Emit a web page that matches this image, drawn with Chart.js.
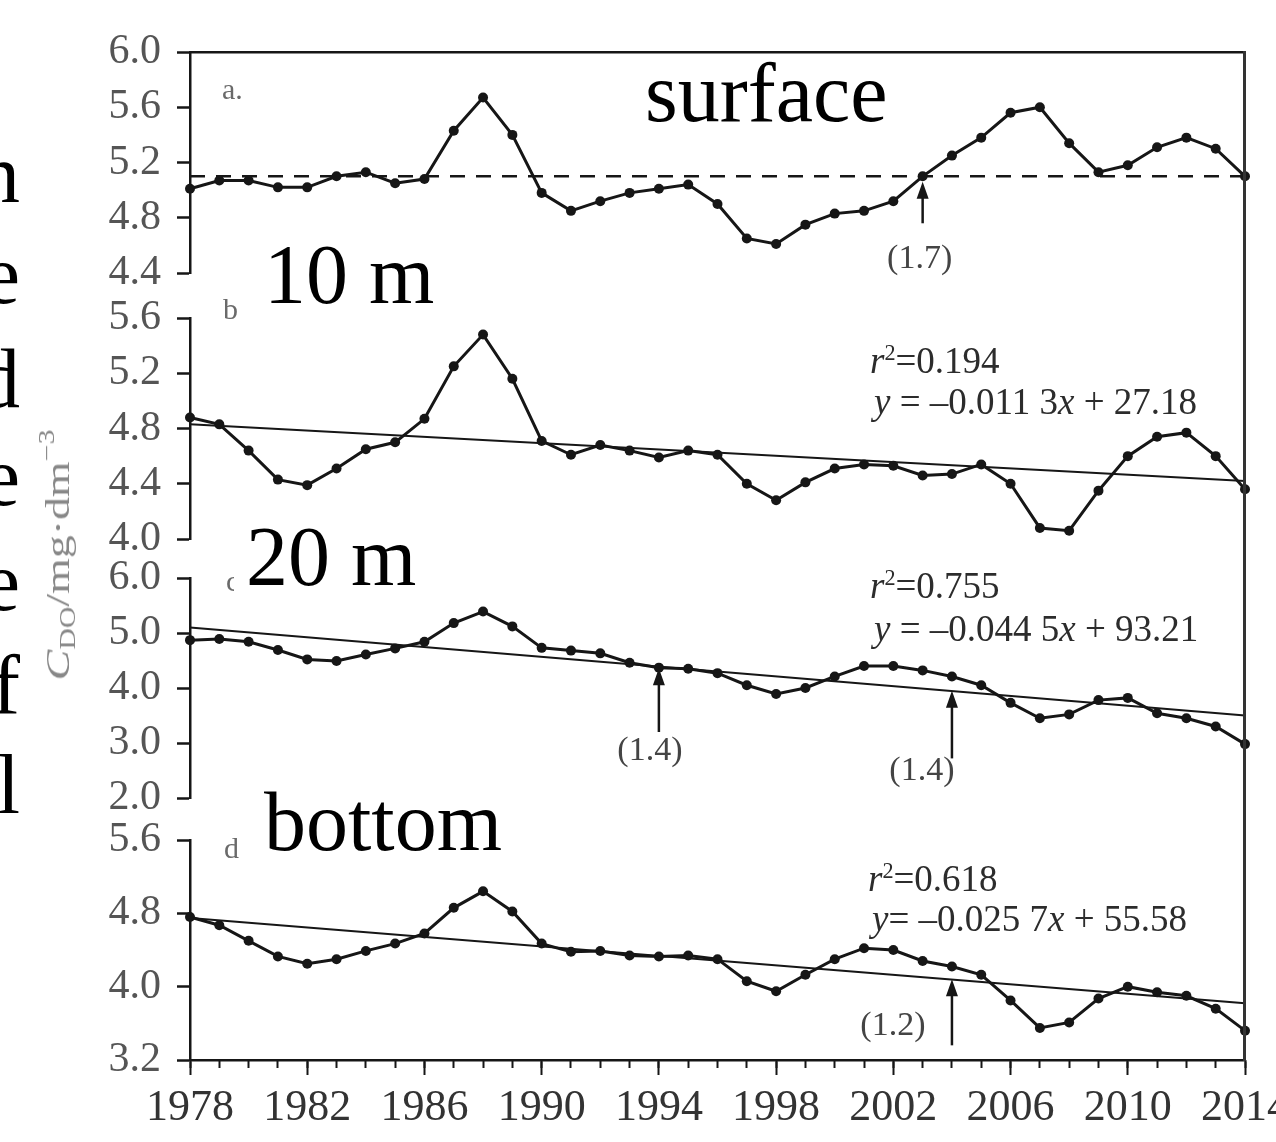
<!DOCTYPE html>
<html>
<head>
<meta charset="utf-8">
<script src="https://cdn.jsdelivr.net/npm/chart.js@4.4.1/dist/chart.umd.min.js"></script>
<style>
  html, body { margin: 0; padding: 0; background: #fff; }
  #wrap { position: relative; width: 1276px; height: 1142px; overflow: hidden;
          font-family: "Liberation Serif", "Times New Roman", serif; }
  canvas { position: absolute; left: 0; }
  .t { position: absolute; line-height: 1; white-space: nowrap; }
  .big { font-size: 84px; color: #000; background: #fff; }
  .side { font-size: 84px; color: #000; left: -200px; width: 220px; text-align: right; }
  .tag { font-size: 30px; color: #6a6a6a; }
  .eq { font-size: 37px; color: #2c2c2c; }
  .eq sup { font-size: 0.6em; vertical-align: 0.6em; line-height: 0; }
  .ytitle { font-size: 34px; color: #888; transform: translate(-50%, -50%) rotate(-90deg) scaleX(1.35); }
  .ytitle sub { font-size: 0.65em; vertical-align: -0.25em; line-height: 0; }
  .ytitle sup { font-size: 0.65em; vertical-align: 0.7em; line-height: 0; }
  #rightEdge { position: absolute; left: 1243px; top: 51px; width: 3px; height: 1010px; background: #333; }
</style>
</head>
<body>
<div id="wrap">
  <canvas id="cA" width="1276" height="319" style="top:0px"></canvas>
  <canvas id="cB" width="1276" height="313" style="top:272px"></canvas>
  <canvas id="cC" width="1276" height="312" style="top:532px"></canvas>
  <canvas id="cD" width="1340" height="348" style="top:794px"></canvas>
  <div id="rightEdge"></div>

  <div class="t side" style="top:132px">n</div>
  <div class="t side" style="top:233px">e</div>
  <div class="t side" style="top:337px">d</div>
  <div class="t side" style="top:435px">e</div>
  <div class="t side" style="top:540px">e</div>
  <div class="t side" style="top:643px">f</div>
  <div class="t side" style="top:743px">l</div>

  <div class="t ytitle" style="left:58px; top:555px"><i>C</i><sub>DO</sub>/mg·dm<sup>−3</sup></div>

  <div class="t tag" style="left:222px; top:74px">a.</div>
  <div class="t tag" style="left:223px; top:294px">b</div>
  <div class="t tag" style="left:226px; top:566px">c</div>
  <div class="t tag" style="left:224px; top:833px">d</div>

  <div class="t big" style="left:645px; top:51px; background:none">surface</div>
  <div class="t big" style="left:260px; top:233px; padding-left:4px">10 m</div>
  <div class="t big" style="left:234px; top:515px; padding-left:12px">20 m</div>
  <div class="t big" style="left:260px; top:780px; padding-left:4px">bottom</div>

  <div class="t eq" style="left:870px; top:342px"><i>r</i><sup>2</sup>=0.194</div>
  <div class="t eq" style="left:874px; top:383px"><i>y</i> = –0.011 3<i>x</i> + 27.18</div>
  <div class="t eq" style="left:870px; top:567px"><i>r</i><sup>2</sup>=0.755</div>
  <div class="t eq" style="left:874px; top:610px"><i>y</i> = –0.044 5<i>x</i> + 93.21</div>
  <div class="t eq" style="left:868px; top:860px"><i>r</i><sup>2</sup>=0.618</div>
  <div class="t eq" style="left:872px; top:900px"><i>y</i>= –0.025 7<i>x</i> + 55.58</div>
</div>

<script>
// years 1978 - 2014
const years = [1978, 1979, 1980, 1981, 1982, 1983, 1984, 1985, 1986, 1987, 1988, 1989, 1990,
  1991, 1992, 1993, 1994, 1995, 1996, 1997, 1998, 1999, 2000, 2001, 2002, 2003, 2004, 2005,
  2006, 2007, 2008, 2009, 2010, 2011, 2012, 2013, 2014];

// dissolved oxygen, mg/dm3
const surface = [5.01, 5.07, 5.07, 5.02, 5.02, 5.10, 5.13, 5.05, 5.08, 5.43, 5.67, 5.40, 4.98,
  4.85, 4.92, 4.98, 5.01, 5.04, 4.90, 4.65, 4.61, 4.75, 4.83, 4.85, 4.92, 5.10, 5.25, 5.38,
  5.56, 5.60, 5.34, 5.13, 5.18, 5.31, 5.38, 5.30, 5.10];
const depth10 = [4.88, 4.83, 4.64, 4.43, 4.39, 4.51, 4.65, 4.70, 4.87, 5.25, 5.48, 5.16, 4.71,
  4.61, 4.68, 4.64, 4.59, 4.64, 4.61, 4.40, 4.28, 4.41, 4.51, 4.54, 4.53, 4.46, 4.47, 4.54,
  4.40, 4.08, 4.06, 4.35, 4.60, 4.74, 4.77, 4.60, 4.36];
const depth20 = [4.87, 4.89, 4.84, 4.69, 4.52, 4.49, 4.61, 4.72, 4.84, 5.18, 5.39, 5.12, 4.73,
  4.68, 4.63, 4.46, 4.37, 4.35, 4.27, 4.05, 3.89, 4.00, 4.21, 4.40, 4.40, 4.32, 4.21, 4.05,
  3.73, 3.45, 3.52, 3.78, 3.82, 3.54, 3.45, 3.30, 2.98];
const bottom = [4.76, 4.67, 4.50, 4.33, 4.25, 4.30, 4.39, 4.47, 4.58, 4.86, 5.04, 4.82, 4.47,
  4.38, 4.39, 4.34, 4.33, 4.34, 4.30, 4.06, 3.95, 4.13, 4.30, 4.42, 4.40, 4.28, 4.22, 4.13,
  3.85, 3.55, 3.61, 3.87, 4.00, 3.94, 3.90, 3.76, 3.52];

// reference / trend lines, values at 1978 and 2014
const trendYears = [1978, 2014];
const surfaceMean = [5.10, 5.10];
const trend10 = [4.83, 4.42];
const trend20 = [5.10, 3.50];
const trendBottom = [4.75, 3.82];

// y axis ranges and steps
const yMin = [4.4, 4.0, 2.0, 3.2];
const yMax = [6.0, 5.6, 6.0, 5.6];
const yStep = [0.4, 0.4, 1.0, 0.8];

// arrows: year, tip value, tail value, label
const arrowsA = { year: [2003], tip: [5.06], tail: [4.76], label: ['(1.7)'] };
const arrowsC = { year: [1994, 2004], tip: [4.36, 3.95], tail: [3.2, 2.72], label: ['(1.4)', '(1.4)'] };
const arrowsD = { year: [2004], tip: [4.08], tail: [3.36], label: ['(1.2)'] };

const ink = '#161616';
const serif = '"Liberation Serif", "Times New Roman", serif';

const pts = (xs, ys) => xs.map((x, i) => ({ x: x, y: ys[i] }));

const arrowPlugin = {
  id: 'arrows',
  afterDatasetsDraw(chart, args, opts) {
    if (!opts.data) return;
    const ctx = chart.ctx;
    const xs = chart.scales.x;
    const ys = chart.scales.y;
    ctx.save();
    opts.data.year.forEach((yr, i) => {
      const px = xs.getPixelForValue(yr);
      const tipY = ys.getPixelForValue(opts.data.tip[i]);
      const tailY = ys.getPixelForValue(opts.data.tail[i]);
      ctx.strokeStyle = ink;
      ctx.fillStyle = ink;
      ctx.lineWidth = 2.5;
      ctx.beginPath();
      ctx.moveTo(px, tailY);
      ctx.lineTo(px, tipY + 12);
      ctx.stroke();
      ctx.beginPath();
      ctx.moveTo(px, tipY);
      ctx.lineTo(px - 6, tipY + 17);
      ctx.lineTo(px + 6, tipY + 17);
      ctx.closePath();
      ctx.fill();
      const off = opts.offsets[i];
      ctx.font = '34px ' + serif;
      ctx.fillStyle = '#444';
      ctx.textAlign = 'center';
      ctx.textBaseline = 'top';
      ctx.fillText(opts.data.label[i], px + off[0], tailY + off[1]);
    });
    ctx.restore();
  }
};

const seriesSet = (values) => ({
  data: pts(years, values),
  borderColor: ink,
  backgroundColor: ink,
  borderWidth: 3,
  pointRadius: 5,
  pointBorderWidth: 0,
  pointBackgroundColor: ink,
  tension: 0,
  clip: false
});

const refSet = (values, dashed) => ({
  data: pts(trendYears, values),
  borderColor: ink,
  borderWidth: dashed ? 2.5 : 2,
  borderDash: dashed ? [15, 11] : [],
  pointRadius: 0,
  tension: 0,
  clip: false
});

const yAxis = (k) => ({
  type: 'linear',
  min: yMin[k],
  max: yMax[k],
  afterFit: (s) => { s.width = 190; },
  ticks: {
    stepSize: yStep[k],
    color: '#555',
    font: { family: serif, size: 42 },
    padding: 16,
    callback: (v) => v.toFixed(1)
  },
  grid: { drawOnChartArea: false, tickLength: 13, tickWidth: 2.5, tickColor: ink },
  border: { color: ink, width: 2.5 }
});

function makePanel(id, k, datasets, opts) {
  const scales = { y: yAxis(k) };
  if (opts.bottomAxis) {
    scales.x = {
      type: 'linear', min: 1978, max: 2014, position: 'bottom',
      afterFit: (s) => { s.height = 82; },
      ticks: {
        stepSize: 4, autoSkip: false, maxRotation: 0, padding: 7,
        color: '#333', font: { family: serif, size: 44 },
        callback: (v) => String(v)
      },
      grid: { drawOnChartArea: false, tickLength: 15, tickWidth: 2, tickColor: ink },
      border: { color: ink, width: 2.5 }
    };
    scales.xMinor = {
      type: 'linear', min: 1978, max: 2014, position: { y: yMin[k] },
      ticks: { display: false, stepSize: 1, autoSkip: false },
      grid: { drawOnChartArea: false, tickLength: 8, tickWidth: 2, tickColor: ink },
      border: { display: false }
    };
  } else if (opts.topBorder) {
    scales.x = {
      type: 'linear', min: 1978, max: 2014, position: 'top',
      ticks: { display: false },
      grid: { display: true, drawOnChartArea: false, drawTicks: false },
      border: { color: ink, width: 2.5 }
    };
  } else {
    scales.x = { type: 'linear', min: 1978, max: 2014, display: false };
  }
  return new Chart(document.getElementById(id), {
    type: 'line',
    data: { datasets: datasets },
    options: {
      responsive: false,
      animation: false,
      devicePixelRatio: 1,
      layout: { padding: opts.padding, autoPadding: false },
      scales: scales,
      plugins: {
        legend: { display: false },
        tooltip: { enabled: false },
        arrows: { data: opts.arrows, offsets: opts.offsets }
      }
    },
    plugins: [arrowPlugin]
  });
}

makePanel('cA', 0, [refSet(surfaceMean, true), seriesSet(surface)], {
  topBorder: true,
  padding: { top: 52, bottom: 46, left: 0, right: 31 },
  arrows: arrowsA, offsets: [[-3, 19]]
});
makePanel('cB', 1, [refSet(trend10, false), seriesSet(depth10)], {
  padding: { top: 46, bottom: 46, left: 0, right: 31 }
});
makePanel('cC', 2, [refSet(trend20, false), seriesSet(depth20)], {
  padding: { top: 46, bottom: 46, left: 0, right: 31 },
  arrows: arrowsC, offsets: [[-9, 2], [-30, -4]]
});
makePanel('cD', 3, [refSet(trendBottom, false), seriesSet(bottom)], {
  bottomAxis: true,
  padding: { top: 46, bottom: 0, left: 0, right: 95 },
  arrows: arrowsD, offsets: [[-59, -36]]
});
</script>
</body>
</html>
